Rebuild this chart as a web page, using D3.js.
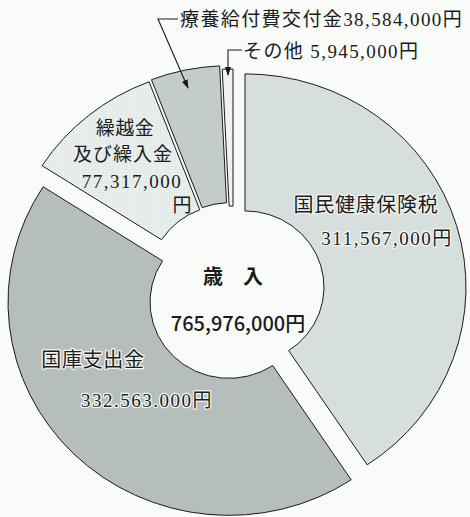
<!DOCTYPE html>
<html>
<head>
<meta charset="utf-8">
<script src="https://cdn.jsdelivr.net/npm/d3@7"></script>
<style>
  body { margin: 0; background: #f9fbf8; }
  svg { display: block; }
  .lbl { font-family: "Liberation Serif", "Noto Sans CJK JP", serif; fill: #1c1c1c; }
  .halo { paint-order: stroke; stroke: #f4f7f5; stroke-width: 2.5px; stroke-linejoin: round; }
  .mid { font-family: "Noto Sans CJK JP", sans-serif; font-weight: bold; fill: #1a1a1a; }
</style>
</head>
<body>
<div id="chart"></div>
<script>
// data (yen)
const categories = ["国民健康保険税", "国庫支出金", "繰越金及び繰入金", "療養給付費交付金", "その他"];
const amounts = [311567000, 332563000, 77317000, 38584000, 5945000];
const amountLabels = ["311,567,000円", "332.563.000円", "77,317,000円", "38,584,000円", "5,945,000円"];
const centerTitle = "歳　入";

// layout
const width = 470, height = 517;
const cx = 232, cy = 291, outerR = 221, innerR = 79, squash = 0.965;
// each slice pulled a little out of the centre (hand tuned against the scan)
const shifts = [[13, -4], [-3, 11.5], [-4, -10.4], [-1.6, -12.6], [1, -9]];
const fills = ["#d6dfdc", "#b5bebb", "url(#dots)", "#c3ccc9", "#eef2f0"];

const svg = d3.select("#chart").append("svg")
  .attr("width", width)
  .attr("height", height);

const defs = svg.append("defs");
const pat = defs.append("pattern")
  .attr("id", "dots")
  .attr("width", 3).attr("height", 3)
  .attr("patternUnits", "userSpaceOnUse");
pat.append("rect").attr("width", 3).attr("height", 3).attr("fill", "#e8eeec");
pat.append("circle").attr("cx", 1.5).attr("cy", 1.5).attr("r", 0.55).attr("fill", "#d8dfdc");

defs.append("marker")
  .attr("id", "arrow")
  .attr("viewBox", "0 0 10 10")
  .attr("refX", 9).attr("refY", 5)
  .attr("markerWidth", 9).attr("markerHeight", 9)
  .attr("markerUnits", "userSpaceOnUse")
  .attr("orient", "auto")
  .append("path")
  .attr("d", "M0,1.5 L10,5 L0,8.5 Z")
  .attr("fill", "#1a1a1a");

const pie = d3.pie().sort(null).value(d => d);
const arc = d3.arc().innerRadius(innerR).outerRadius(outerR);
const arcs = pie(amounts);

const g = svg.append("g")
  .attr("transform", `translate(${cx},${cy}) scale(1,${squash})`);

g.selectAll("path")
  .data(arcs)
  .join("path")
  .attr("transform", (d, i) => `translate(${shifts[i][0]},${shifts[i][1]})`)
  .attr("d", arc)
  .attr("fill", (d, i) => fills[i])
  .attr("stroke", "#1a1a1a")
  .attr("stroke-width", 1)
  .attr("vector-effect", "non-scaling-stroke");

// labels inside slices
const inside = [
  { t: categories[0], x: 366, y: 205, size: 20, sp: 0.7, halo: true },
  { t: amountLabels[0], x: 387, y: 238, size: 19, sp: 1.5, halo: true },
  { t: categories[1], x: 93, y: 360, size: 20, sp: 0.7, halo: true },
  { t: amountLabels[1], x: 147, y: 400, size: 19, sp: 1.5, halo: true },
  { t: categories[2].slice(0, 3), x: 125, y: 128, size: 19, sp: 0.5 },
  { t: categories[2].slice(3), x: 123, y: 154, size: 19, sp: 1 },
  { t: amountLabels[2].replace("円", ""), x: 132, y: 181, size: 19, sp: 1.5 },
  { t: "円", x: 182, y: 205, size: 19, sp: 0 }
];

svg.selectAll("text.inside")
  .data(inside)
  .join("text")
  .attr("class", d => "lbl inside" + (d.halo ? " halo" : ""))
  .attr("x", d => d.x)
  .attr("y", d => d.y)
  .attr("text-anchor", "middle")
  .attr("dominant-baseline", "central")
  .style("font-size", d => d.size + "px")
  .style("letter-spacing", d => d.sp + "px")
  .text(d => d.t);

// callouts for the two thin slices
svg.append("path")
  .attr("d", "M178,19 L158,19 L188,88")
  .attr("fill", "none")
  .attr("stroke", "#1a1a1a")
  .attr("stroke-width", 1.1)
  .attr("marker-end", "url(#arrow)");

svg.append("path")
  .attr("d", "M242,50 L228,50 L228,75")
  .attr("fill", "none")
  .attr("stroke", "#1a1a1a")
  .attr("stroke-width", 1.1)
  .attr("marker-end", "url(#arrow)");

svg.append("text")
  .attr("class", "lbl")
  .attr("x", 180).attr("y", 19)
  .attr("dominant-baseline", "central")
  .style("font-size", "19px")
  .style("letter-spacing", "1.4px")
  .text(categories[3] + amountLabels[3]);

svg.append("text")
  .attr("class", "lbl")
  .attr("x", 243).attr("y", 51)
  .attr("dominant-baseline", "central")
  .style("font-size", "19px")
  .style("letter-spacing", "1.4px")
  .text(categories[4] + " " + amountLabels[4]);

// centre of the ring
svg.append("text")
  .attr("class", "mid")
  .attr("x", 233).attr("y", 275)
  .attr("text-anchor", "middle")
  .attr("dominant-baseline", "central")
  .style("font-size", "20px")
  .text(centerTitle);

svg.append("text")
  .attr("class", "mid")
  .attr("x", 238).attr("y", 322)
  .attr("text-anchor", "middle")
  .attr("dominant-baseline", "central")
  .style("font-size", "20px")
  .style("font-weight", "500")
  .text(d3.format(",")(d3.sum(amounts)) + "円");
</script>
</body>
</html>
